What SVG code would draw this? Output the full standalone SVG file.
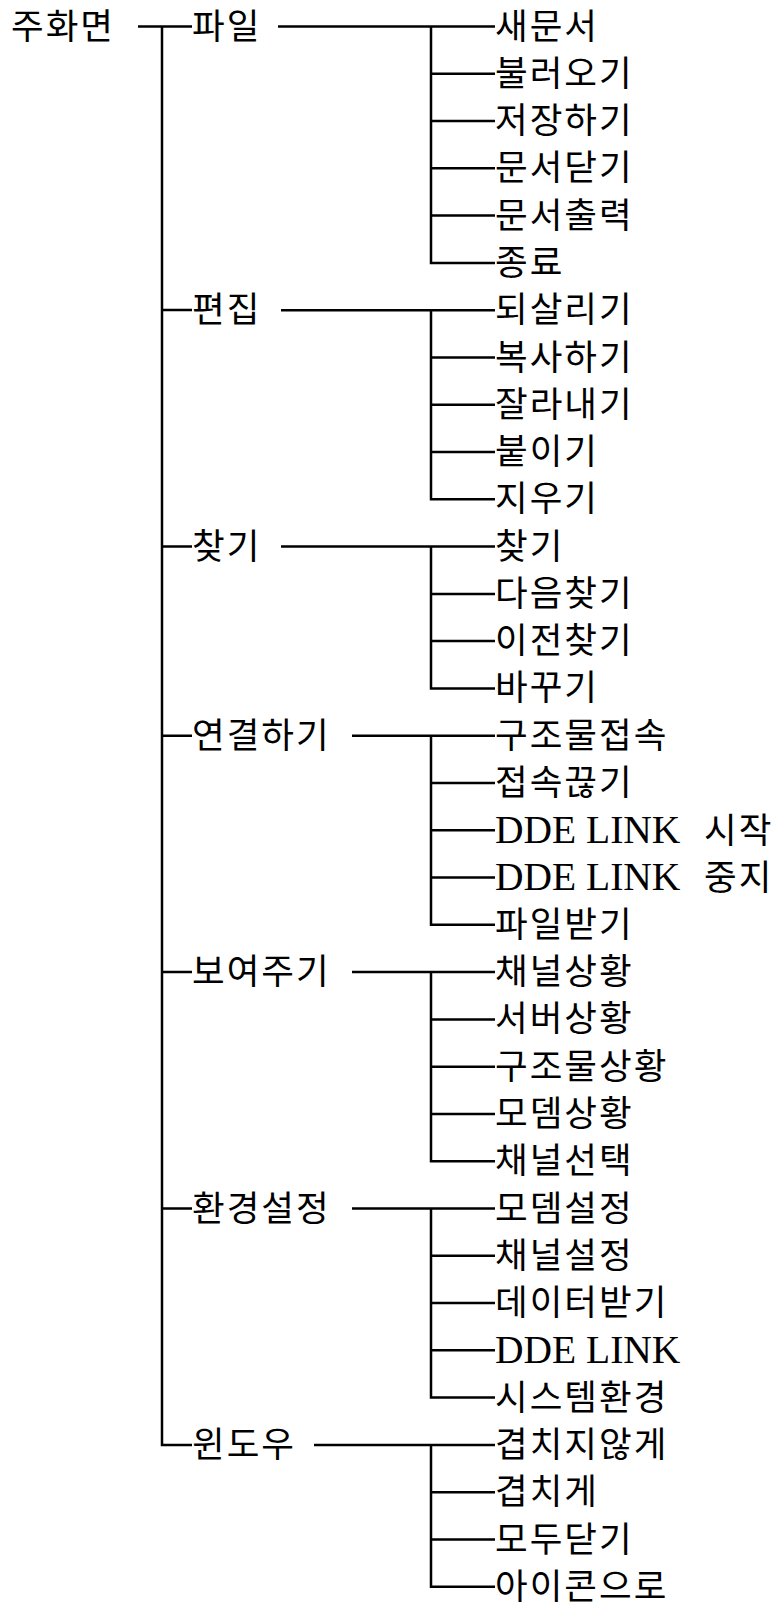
<svg xmlns="http://www.w3.org/2000/svg" width="774" height="1607" viewBox="0 0 774 1607">
<style>
.k{font-family:"Noto Sans CJK KR","Noto Sans",sans-serif;font-size:35.5px;letter-spacing:2px;fill:#000}
.l{font-family:"Liberation Serif","Times New Roman",serif;font-size:39.5px;fill:#000}
.c{fill:none;stroke:#000;stroke-width:2.5}
</style>
<rect width="774" height="1607" fill="#fff"/>
<g transform="translate(0,-2)">
<g id="connectors" class="c">
<path d="M138 28.5H192M162 28.5V1447H192M162 312H192M162 548.6H192M162 737.7H192M162 974H192M162 1210.5H192"/>
<path d="M278 28.5H495M431 28.5V265H495M431 75.8H495M431 123.1H495M431 170.3H495M431 217.6H495"/>
<path d="M281 312.2H495M431 312.2V501.3H495M431 359.5H495M431 406.7H495M431 454H495"/>
<path d="M281 548.6H495M431 548.6V690.4H495M431 595.9H495M431 643.1H495"/>
<path d="M352 737.7H495M431 737.7V926.8H495M431 785H495M431 832.3H495M431 879.5H495"/>
<path d="M352 974.1H495M431 974.1V1163.2H495M431 1021.4H495M431 1068.7H495M431 1115.9H495"/>
<path d="M352 1210.5H495M431 1210.5V1399.6H495M431 1257.8H495M431 1305.1H495M431 1352.3H495"/>
<path d="M314 1446.9H495M431 1446.9V1588.7H495M431 1494.2H495M431 1541.5H495"/>
</g>
<g id="root"><text class="k" x="11" y="40.5">주화면</text></g>
<g id="n-file"><text class="k" x="192" y="40.5">파일</text></g>
<g id="n-edit"><text class="k" x="192" y="324.2">편집</text></g>
<g id="n-find"><text class="k" x="192" y="560.6">찾기</text></g>
<g id="n-connect"><text class="k" x="192" y="749.7">연결하기</text></g>
<g id="n-view"><text class="k" x="192" y="986.1">보여주기</text></g>
<g id="n-setup"><text class="k" x="192" y="1222.5">환경설정</text></g>
<g id="n-window"><text class="k" x="192" y="1458.9">윈도우</text></g>
<g id="c0"><text class="k" x="495" y="40.5">새문서</text></g>
<g id="c1"><text class="k" x="495" y="87.8">불러오기</text></g>
<g id="c2"><text class="k" x="495" y="135.1">저장하기</text></g>
<g id="c3"><text class="k" x="495" y="182.3">문서닫기</text></g>
<g id="c4"><text class="k" x="495" y="229.6">문서출력</text></g>
<g id="c5"><text class="k" x="495" y="276.9">종료</text></g>
<g id="c6"><text class="k" x="495" y="324.2">되살리기</text></g>
<g id="c7"><text class="k" x="495" y="371.5">복사하기</text></g>
<g id="c8"><text class="k" x="495" y="418.7">잘라내기</text></g>
<g id="c9"><text class="k" x="495" y="466">붙이기</text></g>
<g id="c10"><text class="k" x="495" y="513.3">지우기</text></g>
<g id="c11"><text class="k" x="495" y="560.6">찾기</text></g>
<g id="c12"><text class="k" x="495" y="607.9">다음찾기</text></g>
<g id="c13"><text class="k" x="495" y="655.1">이전찾기</text></g>
<g id="c14"><text class="k" x="495" y="702.4">바꾸기</text></g>
<g id="c15"><text class="k" x="495" y="749.7">구조물접속</text></g>
<g id="c16"><text class="k" x="495" y="797">접속끊기</text></g>
<g id="c17"><text x="495" y="844.5"><tspan class="l">DDE LINK</tspan><tspan class="k" x="704">시작</tspan></text></g>
<g id="c18"><text x="495" y="891.7"><tspan class="l">DDE LINK</tspan><tspan class="k" x="704">중지</tspan></text></g>
<g id="c19"><text class="k" x="495" y="938.8">파일받기</text></g>
<g id="c20"><text class="k" x="495" y="986.1">채널상황</text></g>
<g id="c21"><text class="k" x="495" y="1033.4">서버상황</text></g>
<g id="c22"><text class="k" x="495" y="1080.7">구조물상황</text></g>
<g id="c23"><text class="k" x="495" y="1127.9">모뎀상황</text></g>
<g id="c24"><text class="k" x="495" y="1175.2">채널선택</text></g>
<g id="c25"><text class="k" x="495" y="1222.5">모뎀설정</text></g>
<g id="c26"><text class="k" x="495" y="1269.8">채널설정</text></g>
<g id="c27"><text class="k" x="495" y="1317.1">데이터받기</text></g>
<g id="c28"><text class="l" x="495" y="1364.5">DDE LINK</text></g>
<g id="c29"><text class="k" x="495" y="1411.6">시스템환경</text></g>
<g id="c30"><text class="k" x="495" y="1458.9">겹치지않게</text></g>
<g id="c31"><text class="k" x="495" y="1506.2">겹치게</text></g>
<g id="c32"><text class="k" x="495" y="1553.5">모두닫기</text></g>
<g id="c33"><text class="k" x="495" y="1600.7">아이콘으로</text></g>
</g>
</svg>
